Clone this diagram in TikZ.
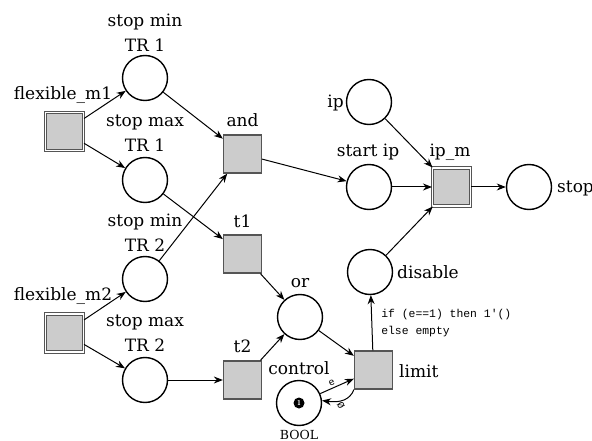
\documentclass[tikz,border=0pt]{standalone}
\usepackage{fontspec}
\setmainfont{DejaVu Serif}
\newfontfamily\monof{Liberation Mono}
\usetikzlibrary{arrows.meta,positioning}
\definecolor{tfill}{HTML}{CCCCCC}
\definecolor{tdraw}{HTML}{555555}
\tikzset{
  place/.style={circle,draw=black,line width=1.4pt,minimum size=45pt,inner sep=0pt},
  trans/.style={rectangle,draw=tdraw,fill=tfill,line width=1.3pt,minimum size=38pt,inner sep=0pt},
  subst/.style={rectangle,draw=tdraw,fill=tfill,line width=1.1pt,double=white,double distance=1.6pt,minimum size=38pt,inner sep=0pt},
  lbl/.style={font=\fontsize{17}{25}\selectfont,inner sep=0pt,align=center},
  arc/.style={-{Stealth[length=9pt,width=7pt]},line width=1pt},
  ins/.style={font=\monof\fontsize{11.4}{17}\selectfont,inner sep=0pt,align=left},
}
\begin{document}
\begin{tikzpicture}[x=1pt,y=-1pt]
\useasboundingbox (0,0) rectangle (592,441);
% places
\node[place] (smin1) at (145,78) {};
\node[place] (smax1) at (145,180) {};
\node[place] (smin2) at (145,279) {};
\node[place] (smax2) at (145,380) {};
\node[place] (or) at (300,317) {};
\node[place] (control) at (299,403) {};
\node[place] (ip) at (369,102) {};
\node[place] (startip) at (369,187) {};
\node[place] (disable) at (370,272) {};
\node[place] (stop) at (529,187) {};
% transitions
\node[subst] (fm1) at (64.5,131.5) {};
\node[subst] (fm2) at (64.5,333) {};
\node[subst] (ipm) at (451.5,187) {};
\node[trans] (and) at (242.5,154) {};
\node[trans] (t1) at (242.5,254) {};
\node[trans] (t2) at (242.5,380) {};
\node[trans] (limit) at (373.5,370) {};
% token
\node[circle,fill=black,minimum size=11pt,inner sep=0pt,text=white,font=\sffamily\bfseries\fontsize{7}{7}\selectfont] (tok) at (control) {1};
% labels
\node[lbl,anchor=south] (lsmin1) at (145,52) {stop min\\TR 1};
\node[lbl,anchor=south] (lsmax1) at (145,152) {stop max\\TR 1};
\node[lbl,anchor=south] (lsmin2) at (145,252) {stop min\\TR 2};
\node[lbl,anchor=south] (lsmax2) at (145,352) {stop max\\TR 2};
\node[lbl,anchor=base] (lfm1) at (63,100) {flexible\_m1};
\node[lbl,anchor=base] (lfm2) at (63,300) {flexible\_m2};
\node[lbl,anchor=base] (land) at (242.5,127) {and};
\node[lbl,anchor=base] (lt1) at (242.5,227) {t1};
\node[lbl,anchor=base] (lt2) at (242.5,352) {t2};
\node[lbl,anchor=base] (lor) at (300,287) {or};
\node[lbl,anchor=base] (lcontrol) at (299,374) {control};
\node[lbl,anchor=base,font=\fontsize{12.5}{14}\selectfont] (lbool) at (299,439) {BOOL};
\node[lbl,anchor=base west] (llimit) at (399,377) {limit};
\node[lbl,anchor=base east] (lip) at (344,108) {ip};
\node[lbl,anchor=base] (lstartip) at (368,157) {start ip};
\node[lbl,anchor=base] (lipm) at (450,157) {ip\_m};
\node[lbl,anchor=base west] (lstop) at (557,193) {stop};
\node[lbl,anchor=base west] (ldisable) at (397,278) {disable};
% arcs
\draw[arc] (fm1) -- (smin1);
\draw[arc] (fm1) -- (smax1);
\draw[arc] (fm2) -- (smin2);
\draw[arc] (fm2) -- (smax2);
\draw[arc] (smin1) -- (and);
\draw[arc] (smax1) -- (t1);
\draw[arc] (smin2) -- (and);
\draw[arc] (smax2) -- (t2);
\draw[arc] (t1) -- (or);
\draw[arc] (t2) -- (or);
\draw[arc] (or) -- (limit);
\draw[arc] (control) -- node[pos=0.4,above=1.5pt,sloped,font=\monof\fontsize{10}{10}\selectfont,inner sep=0pt] (le) {e} (limit);
\draw[arc] (limit.south west) .. controls (350,400) and (340,403) .. (control.6);
\node[font=\monof\fontsize{10}{10}\selectfont,inner sep=0pt,rotate=-60] (lz) at (341,405) {Ø};
\draw[arc] (limit) -- node[right=9pt,ins,pos=0.5] (guard) {if (e==1) then 1'()\\else empty} (disable);
\draw[arc] (disable) -- (ipm);
\draw[arc] (ip) -- (ipm);
\draw[arc] (startip) -- (ipm);
\draw[arc] (and) -- (startip);
\draw[arc] (ipm) -- (stop);
\end{tikzpicture}
\end{document}
